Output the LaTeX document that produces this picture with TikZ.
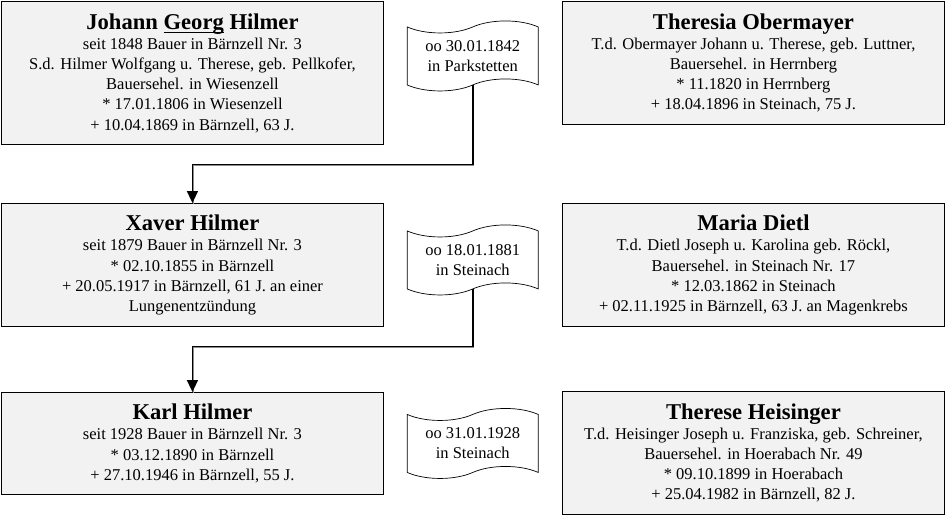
\documentclass[tikz,border=0pt]{standalone}
\usepackage{fontspec}
\setmainfont{Liberation Serif}
\usepackage{tikz}
\usetikzlibrary{shapes.symbols,arrows.meta,positioning,calc}
\definecolor{boxgray}{RGB}{242,242,242}
\definecolor{shadowgray}{RGB}{140,140,140}
\newcommand{\pname}[1]{{\fontsize{22.6}{26}\selectfont\bfseries #1}}
\newcommand{\callname}[1]{\setbox0\hbox{#1}\rlap{\raisebox{-4.3pt}{\rule{\wd0}{1.5pt}}}\box0\relax}

\begin{document}
\begin{tikzpicture}[
    x=1pt, y=-1pt,
    person/.style={rectangle, draw=black, line width=0.9pt, fill=boxgray, minimum width=382pt, align=center, font=\fontsize{16.5}{20.2}\selectfont, inner sep=2pt, anchor=north west},
    marriage/.style={tape, draw=black, line width=0.7pt, fill=white, minimum width=131pt, minimum height=70pt, tape bend height=12pt, align=center, font=\fontsize{16.5}{20.2}\selectfont},
    descent/.style={line width=1.5pt, -{Triangle[length=12pt,width=11pt]}, preaction={draw=shadowgray, -, line width=1.5pt, transform canvas={shift={(0.9pt,-0.9pt)}}}}
]
\useasboundingbox (0,0) rectangle (945,517);

% Generation 1
\node[person, minimum height=143pt] (hilmer) at (1,1) {\pname{Johann \callname{Georg} Hilmer}\\seit 1848 Bauer in Bärnzell Nr. 3\\S.d. Hilmer Wolfgang u. Therese, geb. Pellkofer,\\Bauersehel. in Wiesenzell\\* 17.01.1806 in Wiesenzell\\+ 10.04.1869 in Bärnzell, 63 J.};
\node[marriage, right=23pt of hilmer, yshift=17pt] (m1) {oo 30.01.1842\\in Parkstetten};
\node[person, minimum height=123pt] (oberm) at (562,1) {\pname{Theresia Obermayer}\\T.d. Obermayer Johann u. Therese, geb. Luttner,\\Bauersehel. in Herrnberg\\* 11.1820 in Herrnberg\\+ 18.04.1896 in Steinach, 75 J.};

% Generation 2
\node[person, minimum height=123pt] (xaver) at (1,203) {\pname{Xaver Hilmer}\\seit 1879 Bauer in Bärnzell Nr. 3\\* 02.10.1855 in Bärnzell\\+ 20.05.1917 in Bärnzell, 61 J. an einer\\Lungenentzündung};
\node[marriage, right=23pt of xaver, yshift=5pt] (m2) {oo 18.01.1881\\in Steinach};
\node[person, minimum height=123pt] (dietl) at (562,203) {\pname{Maria Dietl}\\T.d. Dietl Joseph u. Karolina geb. Röckl,\\Bauersehel. in Steinach Nr. 17\\* 12.03.1862 in Steinach\\+ 02.11.1925 in Bärnzell, 63 J. an Magenkrebs};

% Generation 3
\node[person, minimum height=102pt] (karl) at (1,392) {\pname{Karl Hilmer}\\seit 1928 Bauer in Bärnzell Nr. 3\\* 03.12.1890 in Bärnzell\\+ 27.10.1946 in Bärnzell, 55 J.};
\node[marriage, right=23pt of karl] (m3) {oo 31.01.1928\\in Steinach};
\node[person, minimum height=123pt] (heis) at (562,391) {\pname{Therese Heisinger}\\T.d. Heisinger Joseph u. Franziska, geb. Schreiner,\\Bauersehel. in Hoerabach Nr. 49\\* 09.10.1899 in Hoerabach\\+ 25.04.1982 in Bärnzell, 82 J.};

% Descent
\draw[descent] (m1.south) -- ++(0,79) -| (xaver.north);
\draw[descent] (m2.south) -- ++(0,57) -| (karl.north);

\end{tikzpicture}
\end{document}
